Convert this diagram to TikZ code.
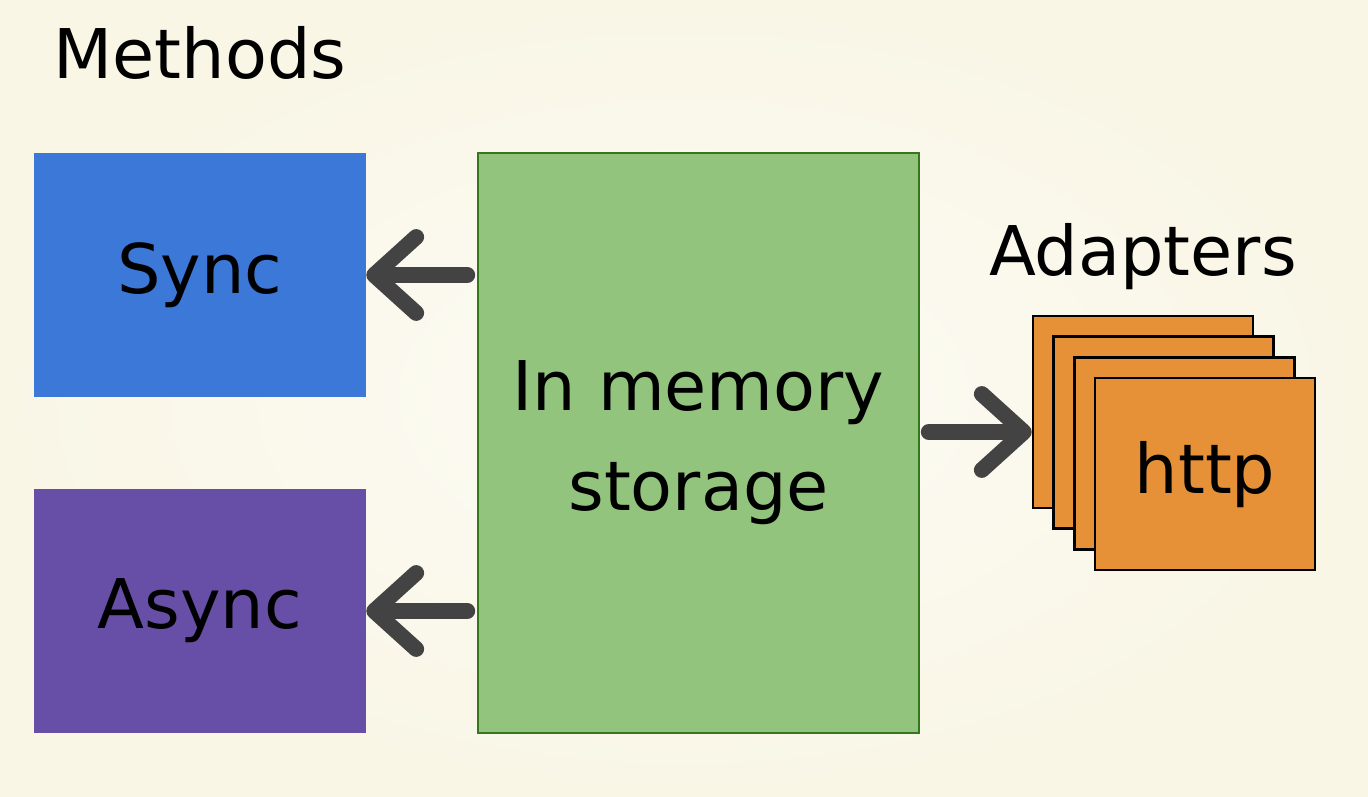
\documentclass[tikz,border=0pt]{standalone}
\usepackage{fontspec}
\setmainfont{DejaVu Sans}
\usepackage{xcolor}
\usepackage{tikz}
\usetikzlibrary{arrows.meta, positioning}
\definecolor{paperin}{RGB}{253, 252, 245}
\definecolor{paperout}{RGB}{249, 246, 230}
\definecolor{syncblue}{RGB}{60, 120, 216}
\definecolor{asyncpurple}{RGB}{103, 78, 167}
\definecolor{storegreen}{RGB}{147, 196, 125}
\definecolor{storeedge}{RGB}{56, 118, 29}
\definecolor{adapterorange}{RGB}{230, 145, 56}
\definecolor{arrowgrey}{RGB}{67, 67, 67}

\begin{document}
\begin{tikzpicture}[
    bigfont/.style={font=\fontsize{19.5}{28.5}\selectfont},
    methodbox/.style={minimum width=3.32cm, minimum height=2.44cm, 
                      inner sep=0pt, bigfont},
    storebox/.style={draw=storeedge, fill=storegreen, minimum width=4.41cm, 
                     minimum height=5.8cm, align=center, bigfont},
    adapter/.style={draw=black, line width=0.7pt, fill=adapterorange, 
                    minimum width=2.2cm, minimum height=1.92cm, inner sep=0pt, bigfont},
    heading/.style={bigfont, inner sep=0pt},
    bigarrow/.style={draw=arrowgrey, line width=4.5pt, line cap=round,
                     -{Straight Barb[length=4.2mm, width=7.6mm, round]}}
]
    \shade[inner color=paperin, outer color=paperout] (0,0) rectangle (13.68,7.96);
    \useasboundingbox (0,0) rectangle (13.68,7.96);

    \node[heading] (methods) at (2.0,7.43) {Methods};

    \node[storebox] (mem) at (6.985,3.53) {In memory\\storage};
    \node[methodbox, fill=syncblue, below left=0cm and 1.11cm of mem.north west] (sync) {Sync};
    \node[methodbox, fill=asyncpurple, above left=0cm and 1.11cm of mem.south west] (async) {Async};

    \node[adapter, right=1.12cm of mem.east, yshift=0.31cm] (ad1) {};
    \node[adapter] (ad2) at ([shift={(0.207,-0.207)}]ad1) {};
    \node[adapter] (ad3) at ([shift={(0.207,-0.207)}]ad2) {};
    \node[adapter] (ad4) at ([shift={(0.207,-0.207)}]ad3) {http};
    \node[heading, above=0.24cm of ad1] (adapters) {Adapters};

    \draw[bigarrow, shorten <=0.1cm] (mem.west |- sync.east) -- (sync.east);
    \draw[bigarrow, shorten <=0.1cm] (mem.west |- async.east) -- (async.east);
    \draw[bigarrow, shorten <=0.09cm] ([yshift=-0.2cm]ad1.west -| mem.east) -- ([yshift=-0.2cm]ad1.west);
\end{tikzpicture}
\end{document}
